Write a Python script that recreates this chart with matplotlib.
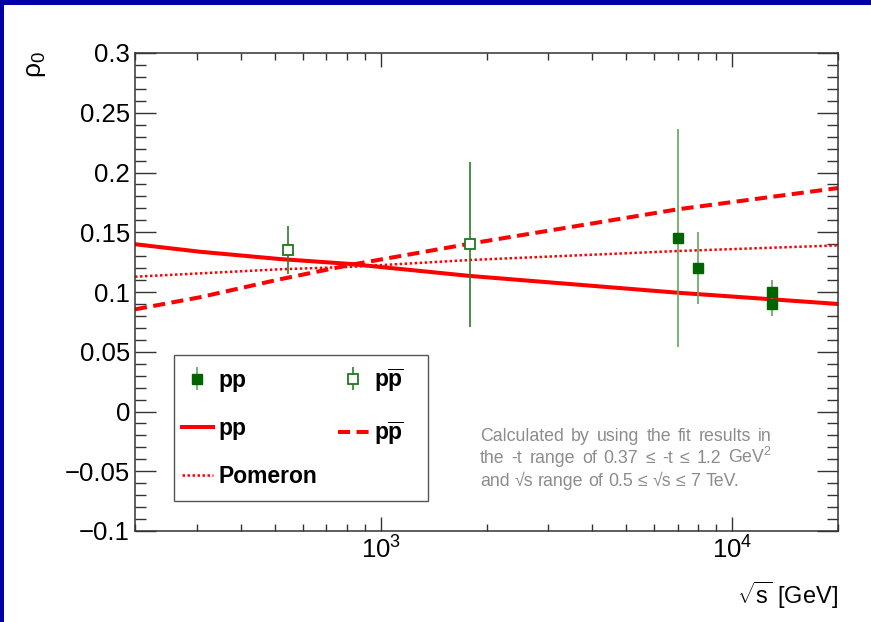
import matplotlib.pyplot as plt
import matplotlib.ticker as mticker
from matplotlib.patches import Rectangle

plt.rcParams.update({
    'font.family': ['Liberation Sans', 'DejaVu Sans'],
    'mathtext.fontset': 'custom',
    'mathtext.rm': 'Liberation Sans',
    'mathtext.it': 'Liberation Sans:italic',
    'mathtext.bf': 'Liberation Sans:bold',
})

# measured points
pp_s = [7000, 8000, 13000, 13000]
pp_rho = [0.145, 0.120, 0.100, 0.090]
pp_err = [0.091, 0.030, 0.010, 0.010]

ppbar_s = [546, 1800]
ppbar_rho = [0.135, 0.140]
ppbar_err = [0.020, 0.069]

# fit curves
s_fit = [200, 306, 516, 817, 1800, 7000, 20000]
pp_fit = [0.140, 0.1337, 0.1276, 0.1235, 0.1134, 0.0994, 0.090]
ppbar_fit = [0.0855, 0.0956, 0.1106, 0.1226, 0.1405, 0.1692, 0.187]
pom_fit = [0.1128, 0.1156, 0.119, 0.121, 0.1268, 0.1343, 0.139]

W, H = 871, 622
fig = plt.figure(figsize=(W / 100, H / 100), dpi=100)
ax = fig.add_axes([135 / W, 91 / H, 703 / W, 478 / H])

l_pp, = ax.plot(s_fit, pp_fit, color='red', lw=2.9)
l_ppbar, = ax.plot(s_fit, ppbar_fit, color='red', lw=2.9, dashes=(3, 1.6))
l_pom, = ax.plot(s_fit, pom_fit, color='red', lw=1.8, dashes=(1, 1))

pp_eb = ax.errorbar(pp_s, pp_rho, yerr=pp_err, fmt='s', ms=6.5, mfc='#006400',
                    mec='#006400', ecolor='#5fa55f', elinewidth=1.2, capsize=0, zorder=4)
ppbar_eb = ax.errorbar(ppbar_s, ppbar_rho, yerr=ppbar_err, fmt='s', ms=6.5, mfc='white',
                       mec='#1f7a1f', mew=1.3, ecolor='#2e7d2e', elinewidth=1.2,
                       capsize=0, zorder=4)

ax.set_xscale('log')
ax.set_xlim(200, 20000)
ax.set_ylim(-0.1, 0.3)
ax.yaxis.set_major_locator(mticker.MultipleLocator(0.05))
ax.yaxis.set_minor_locator(mticker.MultipleLocator(0.01))
ax.yaxis.set_major_formatter(mticker.FuncFormatter(lambda v, p: ('%g' % round(v, 3)).replace('-', '\u2212')))
ax.xaxis.set_minor_formatter(mticker.NullFormatter())

ax.tick_params(which='both', direction='in', top=True, right=True, labelsize=18.5,
               width=1.0, color='#333333')
ax.tick_params(axis='y', which='major', length=15, pad=3.6)
ax.tick_params(axis='y', which='minor', length=8)
ax.tick_params(axis='x', which='major', length=10, pad=4)
ax.tick_params(axis='x', which='minor', length=5)
for sp in ax.spines.values():
    sp.set_linewidth(1.1)
    sp.set_color('#333333')

# legend
frame = Rectangle((174 / W, 1 - 501 / H), 254 / W, 146 / H, transform=fig.transFigure,
                  facecolor='white', edgecolor='#555555', lw=1.0, zorder=5)
ax.add_artist(frame)
leg = ax.legend([pp_eb, l_pp, l_pom, ppbar_eb, l_ppbar],
                ['pp', 'pp', 'Pomeron', r'$\mathbf{p\overline{p}}$', r'$\mathbf{p\overline{p}}$'],
                ncol=2, loc='upper left', bbox_to_anchor=(182 / W, 1 - 366 / H),
                bbox_transform=fig.transFigure, frameon=False,
                prop={'weight': 'bold', 'size': 16.5}, handlelength=1.35,
                handletextpad=0.26, columnspacing=0.87, labelspacing=1.1,
                borderpad=0, borderaxespad=0)
leg.set_zorder(6)

# note text
gray = '#8c8c8c'
renderer = fig.canvas.get_renderer()


def put_line(words, x0, y, width=None):
    texts = [fig.text(0, 0, w, fontsize=12.8, color=gray, va='baseline') for w in words]
    widths = [t.get_window_extent(renderer).width for t in texts]
    if width is None:
        a = fig.text(0, 0, 'a a', fontsize=12.8)
        b = fig.text(0, 0, 'aa', fontsize=12.8)
        gap = a.get_window_extent(renderer).width - b.get_window_extent(renderer).width
        a.remove()
        b.remove()
    else:
        gap = (width - sum(widths)) / (len(words) - 1)
    x = x0
    for t, wd in zip(texts, widths):
        t.set_position((x / W, 1 - y / H))
        x += wd + gap


put_line('Calculated by using the fit results in'.split(), 480, 441, 292)
put_line(['the', '-t', 'range', 'of', '0.37', '\u2264', '-t', '\u2264', '1.2', 'GeV$^{2}$'], 480, 463, 292)
put_line(['and', '\u221as', 'range', 'of', '0.5', '\u2264', '\u221as', '\u2264', '7', 'TeV.'], 480, 486)

fig.text(36 / W, 1 - 65 / H, '\u03c1$_{0}$', rotation=90, fontsize=19, ha='center', va='center')
fig.text(838 / W, 1 - 604 / H, r'$\sqrt{\mathrm{s}}$ [GeV]', ha='right', va='baseline', fontsize=17)

# blue frame of the slide
fig.add_artist(Rectangle((0, 1 - 5 / H), 1, 5 / H, transform=fig.transFigure,
                         facecolor='#0000a8', edgecolor='none'))
fig.add_artist(Rectangle((0, 0), 4 / W, 1, transform=fig.transFigure,
                         facecolor='#0000a8', edgecolor='none'))

fig.savefig('out.png', dpi=100)
